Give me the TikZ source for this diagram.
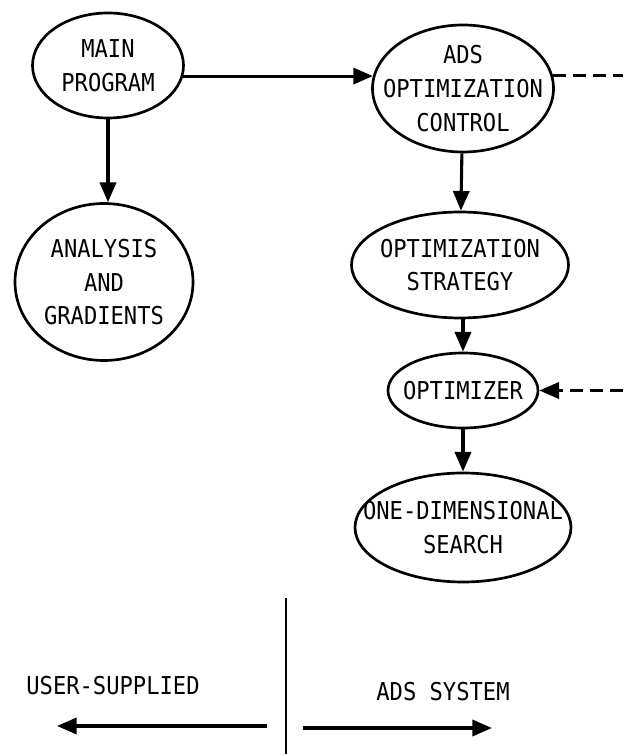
\documentclass[tikz,border=0pt]{standalone}
\usepackage{fontspec}
\setmainfont{DejaVu Sans Mono}[FakeStretch=0.9]
\usetikzlibrary{arrows.meta, shapes.geometric}

% texto centrado que no agranda la elipse
\newcommand\dentro[1]{\makebox[0pt]{\raisebox{-6pt}[0pt][0pt]{%
  \begin{tabular}{@{}c@{}}#1\end{tabular}}}}

\begin{document}
\begin{tikzpicture}[
  >={Triangle[length=14pt, width=11.5pt]}, line width=2.2pt,
  burbuja/.style={draw, ellipse, line width=1.9pt, inner sep=0pt,
                  font=\fontsize{17.5}{24}\selectfont},
  rotulo/.style={font=\fontsize{17.5}{24}\selectfont},
  trazos/.style={dash pattern=on 0.32cm off 0.18cm}]

  \useasboundingbox (0,0) rectangle (15.575,18.85);

  \node[burbuja, minimum width=3.775cm, minimum height=2.625cm] (main) at (2.70,17.2125)
    {\dentro{MAIN\\PROGRAM}};
  \node[burbuja, minimum width=4.525cm, minimum height=3.175cm] (ads) at (11.575,16.6375)
    {\dentro{ADS\\OPTIMIZATION\\CONTROL}};
  \node[burbuja, minimum width=4.45cm, minimum height=3.925cm] (anal) at (2.60,11.8)
    {\dentro{ANALYSIS\\AND\\GRADIENTS}};
  \node[burbuja, minimum width=5.425cm, minimum height=2.65cm] (estr) at (11.5,12.225)
    {\dentro{OPTIMIZATION\\STRATEGY}};
  \node[burbuja, minimum width=3.75cm, minimum height=1.875cm] (optr) at (11.575,9.0875)
    {\dentro{OPTIMIZER}};
  \node[burbuja, minimum width=5.4cm, minimum height=2.725cm] (busq) at (11.575,5.6625)
    {\dentro{ONE-DIMENSIONAL\\SEARCH}};

  \draw[->] (main.-8) -- (main.-8 -| ads.172);
  \draw[->] (main.south) -- (main.south |- anal.north);
  \draw[->] (ads) -- (estr);
  \draw[->] (estr.south -| optr) -- (optr);
  \draw[->] (optr) -- (busq);

  % lazo de control que sale por el borde derecho
  \coordinate (borde) at (15.575,0);
  \draw[trazos] (ads.8) -- (ads.8 -| borde);
  \draw[trazos, ->] (optr.east -| borde) -- (optr.east);

  % division usuario / sistema
  \coordinate (divA) at (7.15,3.9);
  \coordinate (divB) at (7.15,0);
  \draw[line width=1.5pt] (divA) -- (divB);
  \node[rotulo] (usr) at (2.825,1.7) {USER-SUPPLIED};
  \node[rotulo] (sis) at (11.075,1.55) {ADS SYSTEM};
  \coordinate (izqA) at (6.675,0.7);
  \coordinate (izqB) at (1.425,0.7);
  \coordinate (derA) at (7.575,0.65);
  \coordinate (derB) at (12.3,0.65);
  \draw[->] (izqA) -- (izqB);
  \draw[->] (derA) -- (derB);
\end{tikzpicture}
\end{document}
